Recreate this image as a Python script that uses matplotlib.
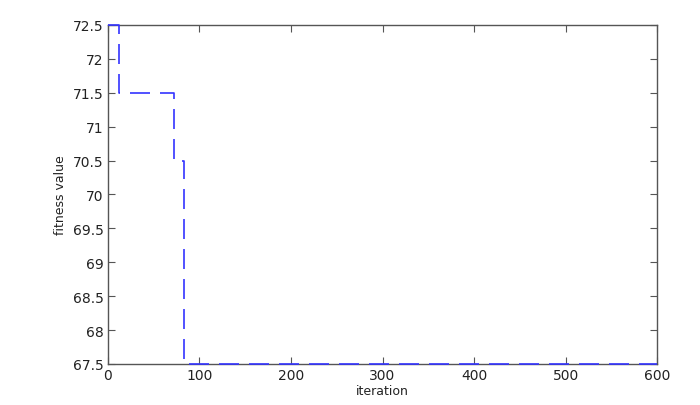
import matplotlib
matplotlib.use("Agg")
import matplotlib.pyplot as plt

# step points of the best fitness per iteration
iteration = [0, 12, 72, 83, 600]
fitness = [72.5, 71.5, 70.5, 67.5, 67.5]

yticks = [67.5, 68, 68.5, 69, 69.5, 70, 70.5, 71, 71.5, 72, 72.5]
ytick_labels = ["67.5", "68", "68.5", "69", "69.5", "70", "70.5", "71", "71.5", "72", "72.5"]

fig = plt.figure(figsize=(7, 4.06), dpi=100)
ax = fig.add_axes([0.154, 0.101, 0.785, 0.835])

ax.plot(iteration, fitness, color="#3333ff", lw=1.2, drawstyle="steps-post",
        dashes=(12, 6), zorder=3, clip_on=False)

ax.set_xlim(0, 600)
ax.set_ylim(67.5, 72.5)
ax.set_yticks(yticks)
ax.set_yticklabels(ytick_labels)
ax.set_xticks([0, 100, 200, 300, 400, 500, 600])

ax.tick_params(direction="in", top=True, right=True, length=5, width=0.8,
               color="#555555", labelsize=10, labelcolor="#222222", pad=3)
for s in ax.spines.values():
    s.set_color("#555555")
    s.set_linewidth(1.0)

ax.set_xlabel("iteration", fontsize=9, color="#222222", labelpad=1)
ax.set_ylabel("fitness value", fontsize=9, color="#222222", labelpad=4)

fig.savefig("out.png", dpi=100)
